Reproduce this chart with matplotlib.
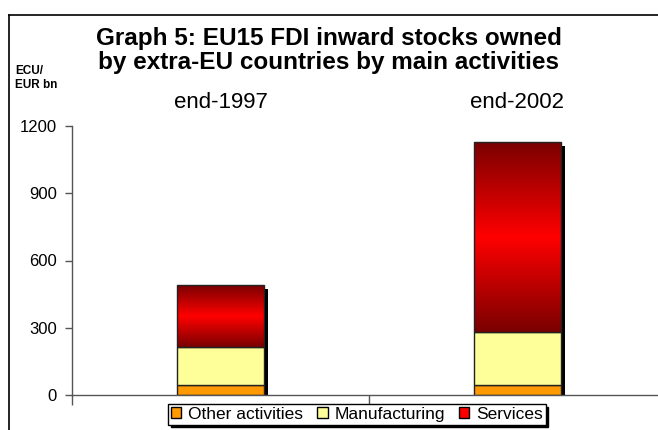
import numpy as np
import matplotlib
matplotlib.use("Agg")
import matplotlib.pyplot as plt
from matplotlib.patches import Rectangle
from matplotlib.transforms import offset_copy
from matplotlib.colors import LinearSegmentedColormap

plt.rcParams['font.family'] = ['Liberation Sans', 'DejaVu Sans']

categories = ["end-1997", "end-2002"]
other = [45, 45]
manufacturing = [170, 237]
services = [276, 845]
series_names = ["Other activities", "Manufacturing", "Services"]
yticks = [0, 300, 600, 900, 1200]

fig = plt.figure(figsize=(6.58, 4.30), dpi=100)
W, H = 658, 430
ax = fig.add_axes([72 / W, 35 / H, 594 / W, 269 / H])

x = np.arange(len(categories))
width = 0.29
totals = np.array(other) + np.array(manufacturing) + np.array(services)

# shadows
shadow_tr = offset_copy(ax.transData, fig=fig, x=4, y=-4, units='dots')
ax.bar(x, totals, width=width, color='black', transform=shadow_tr, zorder=1)

b1 = ax.bar(x, other, width=width, color='#FF9900', edgecolor='#222222', linewidth=1, zorder=2)
b2 = ax.bar(x, manufacturing, width=width, bottom=other, color='#FFFF99', edgecolor='#222222', linewidth=1, zorder=2)
bottom3 = np.array(other) + np.array(manufacturing)
b3 = ax.bar(x, services, width=width, bottom=bottom3, color='#FF0000', edgecolor='#222222', linewidth=1, zorder=4)

cmap = LinearSegmentedColormap.from_list('rg', ['#7A0000', '#FF0000', '#7A0000'])
grad = np.linspace(0, 1, 256).reshape(-1, 1)
for p in b3.patches:
    x0, y0, w, h = p.get_x(), p.get_y(), p.get_width(), p.get_height()
    p.set_facecolor('none')
    im = ax.imshow(grad, cmap=cmap, aspect='auto', extent=[x0, x0 + w, y0, y0 + h],
                   origin='lower', zorder=3, interpolation='bilinear')
    im.set_clip_path(p)

ax.set_xlim(-0.5, 1.5)
ax.set_ylim(0, 1200)
ax.set_yticks(yticks)
ax.set_yticklabels([str(v) for v in yticks], fontsize=12)
ax.set_xticks([-0.5, 0.5, 1.5])
ax.set_xticklabels([])
ax.tick_params(axis='x', direction='out', length=7, color='#555555', width=1)
ax.tick_params(axis='y', direction='out', length=5, color='#555555', width=1, pad=6)
for s in ['top', 'right']:
    ax.spines[s].set_visible(False)
for s in ['left', 'bottom']:
    ax.spines[s].set_color('#555555')
    ax.spines[s].set_linewidth(1)

# category labels above
for xi, c in zip(x, categories):
    ax.text(xi, 1 + 18 / 269, c, transform=ax.get_xaxis_transform(), ha='center', va='baseline', fontsize=16)

fig.text(329 / W, 1 - 45 / H, "Graph 5: EU15 FDI inward stocks owned", ha='center', va='baseline',
         fontsize=17.5, fontweight='bold')
fig.text(329 / W, 1 - 69 / H, "by extra-EU countries by main activities", ha='center', va='baseline',
         fontsize=17.5, fontweight='bold')
fig.text(15 / W, 1 - 74 / H, "ECU/", ha='left', va='baseline', fontsize=8.5, fontweight='bold')
fig.text(15 / W, 1 - 88 / H, "EUR bn", ha='left', va='baseline', fontsize=8.5, fontweight='bold')

# frame lines
fig.add_artist(plt.Line2D([8.5 / W, 8.5 / W], [0, 1 - 14.5 / H], transform=fig.transFigure, color='black', lw=1.2))
fig.add_artist(plt.Line2D([8.5 / W, 1], [1 - 14.5 / H, 1 - 14.5 / H], transform=fig.transFigure, color='black', lw=1.2))

handles = [Rectangle((0, 0), 1, 1, facecolor=c, edgecolor='black', lw=1)
           for c in ['#FF9900', '#FFFF99', '#FF0000']]
leg = fig.legend(handles, series_names, loc='center', bbox_to_anchor=(357 / W, 1 - 414.5 / H),
                 ncol=3, fontsize=12.5, frameon=True, fancybox=False, shadow={'color': 'black', 'alpha': 1},
                 handlelength=0.6, handleheight=0.6, handletextpad=0.4, columnspacing=0.8,
                 borderpad=0.15, edgecolor='black', framealpha=1)
leg.get_frame().set_linewidth(1)

fig.savefig("out.png", dpi=100)
